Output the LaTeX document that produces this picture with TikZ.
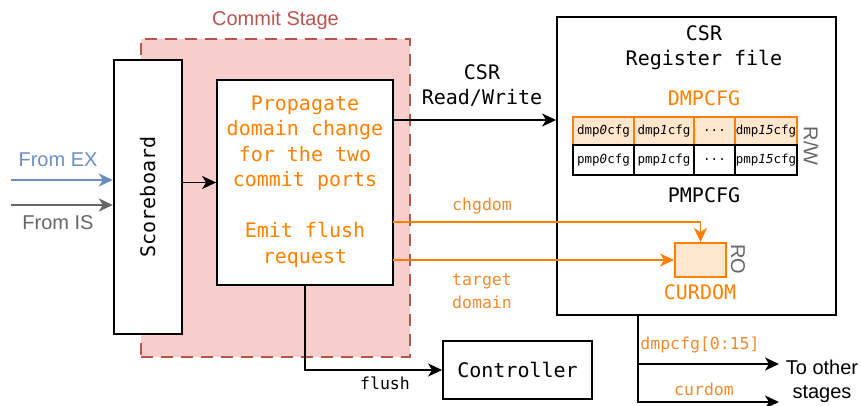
\documentclass[tikz,border=0pt]{standalone}
\usepackage{fontspec}
\setmainfont{Liberation Sans}
\setmonofont{DejaVu Sans Mono}
\usetikzlibrary{arrows.meta}
\definecolor{stagered}{HTML}{B85450}
\definecolor{stagefill}{HTML}{F8CECC}
\definecolor{org}{HTML}{FF8000}
\definecolor{orglabel}{HTML}{F08A30}
\definecolor{orgfill}{HTML}{FFE6CC}
\definecolor{exblue}{HTML}{6C8EBF}
\definecolor{isgray}{HTML}{666666}
\tikzset{
  box/.style={draw=black, line width=1.8pt, fill=white, inner sep=0pt},
  arr/.style={line width=1.8pt, -{Stealth[length=14pt,width=13pt,inset=4pt]}},
  mono/.style={font=\ttfamily\fontsize{20}{25.5}\selectfont},
  monosm/.style={font=\ttfamily\fontsize{16.5}{23}\selectfont},
  sans/.style={font=\fontsize{20}{24}\selectfont},
  sidelbl/.style={font=\fontsize{20}{24}\selectfont, text=isgray, rotate=-90},
  cell/.style={draw, line width=1.4pt, inner sep=0pt, font=\ttfamily\fontsize{12.5}{14}\selectfont},
  dcell/.style={cell, draw=org, fill=orgfill},
  pcell/.style={cell, draw=black, fill=white},
}
\begin{document}
\begin{tikzpicture}[x=1pt,y=-1pt]
\useasboundingbox (0,0) rectangle (861,405);
% commit stage
\node[draw=stagered, fill=stagefill, line width=1.6pt, dash pattern=on 12pt off 8pt,
  minimum width=269pt, minimum height=318pt, inner sep=0pt] (stage) at (275.5,198) {};
\node[sans, text=stagered] (stagelbl) at (275.5,20) {Commit Stage};
% scoreboard
\node[box, minimum width=68pt, minimum height=274pt] (sb) at (147.7,197) {};
\node[mono, rotate=90] (sbtxt) at (sb.center) {Scoreboard};
% propagate box
\node[box, minimum width=176pt, minimum height=205pt] (prop) at (305,182.5) {};
\node[mono, text=org, align=center] (proptxt) at (305,181.5)
  {Propagate\\domain change\\for the two\\commit ports\\[25.5pt]Emit flush\\request};
% CSR box
\node[box, minimum width=279pt, minimum height=298pt] (csr) at (696.5,166) {};
\node[mono, align=center] (csrtitle) at (704,47.5) {CSR\\Register file};
\node[mono, text=org] (dmpcfg) at (704,98) {DMPCFG};
\node[mono] (pmpcfg) at (704,195) {PMPCFG};
% table
\node[dcell, minimum width=61pt, minimum height=28pt] (d0) at (603.5,131) {dmp\textit{0}cfg};
\node[dcell, minimum width=60pt, minimum height=28pt] (d1) at (664,131) {dmp\textit{1}cfg};
\node[dcell, minimum width=41pt, minimum height=28pt] (d2) at (714.5,131) {.{}.{}.};
\node[dcell, minimum width=62pt, minimum height=28pt] (d3) at (766,131) {dmp\textit{15}cfg};
\node[pcell, minimum width=61pt, minimum height=30pt] (p0) at (603.5,160) {pmp\textit{0}cfg};
\node[pcell, minimum width=60pt, minimum height=30pt] (p1) at (664,160) {pmp\textit{1}cfg};
\node[pcell, minimum width=41pt, minimum height=30pt] (p2) at (714.5,160) {.{}.{}.};
\node[pcell, minimum width=62pt, minimum height=30pt] (p3) at (766,160) {pmp\textit{15}cfg};
\node[sidelbl] (rw) at (811,146) {R/W};
% curdom
\node[draw=org, fill=orgfill, line width=1.8pt, minimum width=51pt, minimum height=34pt, inner sep=0pt] (curdom) at (700.5,260) {};
\node[sidelbl] (ro) at (738,259) {RO};
\node[mono, text=org] (curdomlbl) at (700,292) {CURDOM};
% controller
\node[box, mono, minimum width=149pt, minimum height=58pt] (ctrl) at (517.5,370) {Controller};
% inputs
\coordinate (exs) at (11,180);
\coordinate (iss) at (11,205);
\draw[arr, exblue] (exs) -- (exs -| sb.west);
\draw[arr, isgray] (iss) -- (iss -| sb.west);
\node[sans, text=exblue] (exlbl) at (58,160) {From EX};
\node[sans, text=isgray] (islbl) at (58,223) {From IS};
% scoreboard to prop
\draw[arr] (sb.east |- prop.west) -- (prop.west);
% CSR read/write
\coordinate (rws) at (393,120);
\draw[arr] (rws) -- (rws -| csr.west);
\node[mono, align=center, font=\ttfamily\fontsize{20}{25}\selectfont] (rwlbl) at (482,86) {CSR\\Read/Write};
% chgdom
\coordinate (chs) at (393,221.7);
\draw[arr, org] (chs) -| (curdom.north);
\node[monosm, text=orglabel] (chlbl) at (482,206) {chgdom};
% target domain
\coordinate (tds) at (393,260);
\draw[arr, org] (tds) -- (curdom.west);
\node[monosm, text=orglabel, align=center] (tdlbl) at (482,291) {target\\domain};
% flush
\draw[arr] (prop.south) |- (ctrl.west);
\node[monosm] (flushlbl) at (385,383) {flush};
% outputs
\coordinate (os) at (638,315);
\coordinate (om) at (638,364);
\coordinate (oe1) at (779,364);
\coordinate (oe2) at (779,402);
\draw[arr] (os) |- (oe2);
\draw[arr] (om) -- (oe1);
\node[monosm, text=orglabel] (dmlbl) at (700,345) {dmpcfg[0:15]};
\node[monosm, text=orglabel] (cdlbl) at (704,389) {curdom};
\node[sans, align=center] (tolbl) at (822,381) {To other\\stages};
\end{tikzpicture}
\end{document}
